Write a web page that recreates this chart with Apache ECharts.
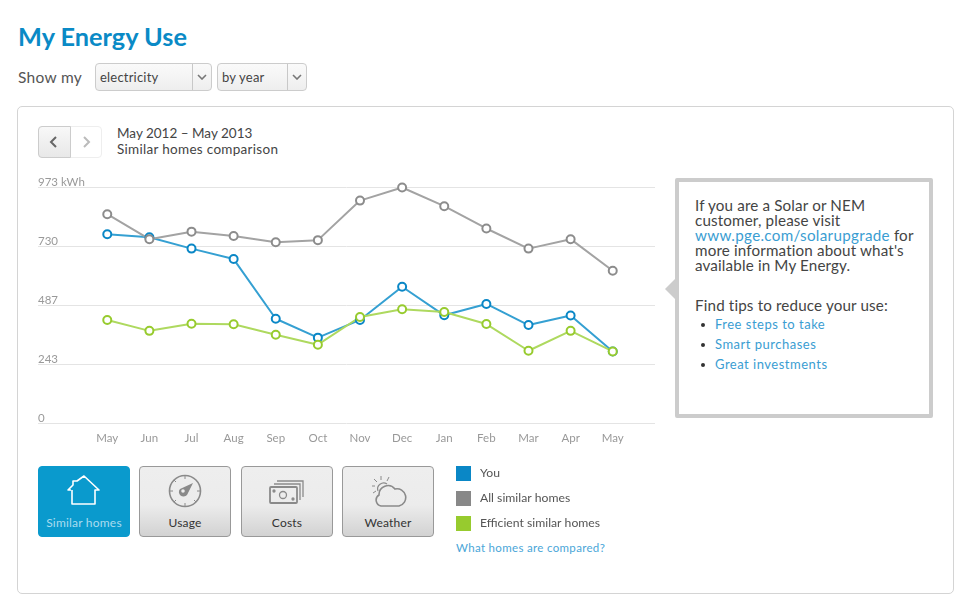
<!DOCTYPE html>
<html>
<head>
<meta charset="utf-8">
<title>My Energy Use</title>
<script src="https://cdn.jsdelivr.net/npm/echarts@6/dist/echarts.min.js"></script>
<style>
html, body { margin: 0; padding: 0; background: #fff; overflow: hidden; }
body { width: 960px; height: 606px; position: relative; font-family: Lato, "Open Sans", sans-serif; color: #444; }
.abs { position: absolute; white-space: nowrap; }
#panel { left: 17px; top: 106px; width: 935px; height: 486px; border: 1px solid #d4d4d4; border-radius: 5px; }
#title { left: 18px; top: 20px; font-size: 25.3px; line-height: 32px; font-weight: 700; color: #0a8ac6; }
#showmy { left: 18px; top: 67px; font-size: 15.5px; line-height: 20px; color: #555; letter-spacing: 0.3px; }
.select { top: 63px; height: 26px; border: 1px solid #ccc; border-radius: 4px; background: linear-gradient(#fafafa, #eee); font-size: 13px; line-height: 27px; color: #444; box-sizing: content-box; }
.select span { position: absolute; left: 4px; letter-spacing: 0.2px; }
.select i { position: absolute; right: 0; top: 0; width: 18px; height: 26px; border-left: 1px solid #c8c8c8; }
.select svg { position: absolute; right: 4px; top: 10px; }
#nav { left: 38px; top: 126px; width: 62px; height: 30px; border: 1px solid #eee; border-radius: 4px; background: #fff; }
#navl { position: absolute; left: -1px; top: -1px; width: 31px; height: 30px; border: 1px solid #ccc; border-radius: 4px 0 0 4px; background: linear-gradient(#f8f8f8, #e8e8e8); }
.sub { left: 117px; font-size: 13.5px; line-height: 16px; color: #444; }
#box { left: 675px; top: 178px; width: 250px; height: 232px; border: 4px solid #ccc; border-radius: 2px; background: #fff; }
#arrow { left: 665px; top: 279px; width: 0; height: 0; border-top: 10px solid transparent; border-bottom: 10px solid transparent; border-right: 10px solid #ccc; }
.info { left: 695px; font-size: 15.2px; line-height: 15px; color: #444; letter-spacing: 0.15px; }
.link { color: #3a9dd2; letter-spacing: 0.3px; }
.tip { left: 715px; font-size: 13px; line-height: 16px; color: #3a9dd2; letter-spacing: 0.5px; }
.dot { left: 701px; width: 4px; height: 4px; border-radius: 50%; background: #333; }
.btn { top: 466px; height: 69px; width: 90px; border: 1px solid #999; border-radius: 4px; background: linear-gradient(#eee 0, #ececec 55%, #d2d2d2 100%); text-align: center; box-sizing: content-box; }
.btn b { position: absolute; left: 0; right: 0; top: 49px; font-weight: 400; font-size: 12px; line-height: 14px; color: #333; letter-spacing: 0.2px; }
.btn svg { position: absolute; left: 26px; top: 7px; }
.btn.on { border-color: #0a9acd; background: #0a9acd; }
.btn.on b { color: #a9dcef; }
#compare { left: 456px; top: 541px; font-size: 11.5px; line-height: 14px; color: #4aa6d8; letter-spacing: 0.33px; }
#chart { left: 0; top: 0; width: 960px; height: 606px; }
</style>
</head>
<body>
<div id="panel" class="abs"></div>
<div id="title" class="abs">My Energy Use</div>
<div id="showmy" class="abs">Show my</div>
<div class="abs select" style="left:95px;width:115px"><span>electricity</span><i></i>
  <svg width="10" height="6"><path d="M1 1 L5 5 L9 1" fill="none" stroke="#777" stroke-width="1.6"/></svg></div>
<div class="abs select" style="left:217px;width:88px"><span>by year</span><i></i>
  <svg width="10" height="6"><path d="M1 1 L5 5 L9 1" fill="none" stroke="#777" stroke-width="1.6"/></svg></div>

<div id="nav" class="abs"><div id="navl">
  <svg width="31" height="30"><path d="M17 10 L12 15 L17 20" fill="none" stroke="#666" stroke-width="2"/></svg></div>
  <svg style="position:absolute;left:31px;top:0" width="31" height="30"><path d="M14 10 L19 15 L14 20" fill="none" stroke="#bbb" stroke-width="2"/></svg>
</div>
<div class="abs sub" style="top:125px">May 2012 – May 2013</div>
<div class="abs sub" style="top:141px;letter-spacing:0.3px">Similar homes comparison</div>

<div id="arrow" class="abs"></div>
<div id="box" class="abs"></div>
<div class="abs info" style="top:198px">If you are a Solar or NEM</div>
<div class="abs info" style="top:213px">customer, please visit</div>
<div class="abs info" style="top:228px"><span class="link">www.pge.com/solarupgrade</span> for</div>
<div class="abs info" style="top:243px">more information about what's</div>
<div class="abs info" style="top:258px">available in My Energy.</div>
<div class="abs info" style="top:298px">Find tips to reduce your use:</div>
<div class="abs dot" style="top:323px"></div><div class="abs tip" style="top:316px">Free steps to take</div>
<div class="abs dot" style="top:343px"></div><div class="abs tip" style="top:336px">Smart purchases</div>
<div class="abs dot" style="top:363px"></div><div class="abs tip" style="top:356px">Great investments</div>

<div class="abs btn on" style="left:38px"><svg width="38" height="36" fill="none" stroke="#fff" stroke-width="1.6" stroke-linejoin="round"><path d="M6 16 L3 16 L8 11 L8 7 L12 7 L19 2 L34 16 L30 16 L30 30 L7 30 L7 16"/></svg><b>Similar homes</b></div>
<div class="abs btn" style="left:139px"><svg width="38" height="36" fill="none" stroke="#8a8a8a"><circle cx="19" cy="17" r="15.5" stroke-width="1.6"/><path d="M27 9 L21 21 A4 4 0 0 1 14 15 Z" fill="#8a8a8a" stroke="none"/><circle cx="17" cy="17" r="1.8" fill="#eee" stroke="none"/><path d="M19 2 V5 M19 29 V32 M4 17 H7 M31 17 H34 M8 6 L10 8 M8 28 L10 26 M30 28 L28 26" stroke-width="1"/></svg><b>Usage</b></div>
<div class="abs btn" style="left:241px"><svg width="38" height="36" fill="none" stroke="#8a8a8a" stroke-width="1.3"><path d="M9 7 H35 V23 M6 10 H32 V26"/><rect x="2" y="13" width="27" height="16" rx="1" stroke-width="1.8"/><circle cx="15" cy="21" r="3.5"/><circle cx="6" cy="17" r="1" fill="#8a8a8a"/><circle cx="25" cy="25" r="1" fill="#8a8a8a"/></svg><b>Costs</b></div>
<div class="abs btn" style="left:342px"><svg width="38" height="36" fill="none" stroke="#8a8a8a" stroke-width="1.6"><path d="M12 32 A6 6 0 0 1 10 21 A9 9 0 0 1 26 15 A8 8 0 0 1 30 32 Z"/><path d="M9 17 A6 6 0 0 1 18 10" stroke-width="1.2"/><path d="M12 2 V6 M3 12 H6 M5 5 L8 8 M20 3 L18 7 M4 19 L7 17" stroke-width="1"/></svg><b>Weather</b></div>
<div id="compare" class="abs">What homes are compared?</div>

<div id="chart" class="abs"></div>

<script>
var months = ['May', 'Jun', 'Jul', 'Aug', 'Sep', 'Oct', 'Nov', 'Dec', 'Jan', 'Feb', 'Mar', 'Apr', 'May'];
var yTicks = [0, 243, 487, 730, 973];
var youValues = [780, 768, 721, 678, 432, 354, 427, 564, 446, 493, 406, 445, 297];
var allValues = [863, 760, 791, 773, 747, 756, 919, 973, 896, 804, 721, 760, 630];
var efficientValues = [427, 382, 411, 409, 366, 325, 439, 471, 460, 410, 300, 382, 297];

function makeSeries(name, values, color, lineColor) {
    return {
        name: name,
        type: 'line',
        xAxisIndex: 1,
        yAxisIndex: 1,
        data: values,
        symbol: 'circle',
        symbolSize: 8,
        showSymbol: true,
        lineStyle: { color: lineColor, width: 2 },
        itemStyle: { color: '#fff', borderColor: color, borderWidth: 2 }
    };
}

var chart = echarts.init(document.getElementById('chart'), null, { renderer: 'canvas' });
var labelFont = 'Lato, "Open Sans", sans-serif';

// grid 0 carries the long gridlines, grid 1 the plotted months
chart.setOption({
    animation: false,
    backgroundColor: 'transparent',
    grid: [
        { left: 38, top: 187.5, width: 617, height: 236 },
        { left: 86.2, top: 187.5, width: 547.6, height: 236 }
    ],
    xAxis: [
        { gridIndex: 0, type: 'value', show: false, min: 0, max: 1 },
        {
            gridIndex: 1,
            type: 'category',
            data: months,
            axisLine: { show: false },
            axisTick: { show: false },
            axisLabel: { color: '#999', fontSize: 11.5, margin: 9, fontFamily: labelFont, interval: 0 }
        }
    ],
    yAxis: [
        {
            gridIndex: 0,
            type: 'value',
            min: 0,
            max: 973,
            axisLine: { show: false },
            axisTick: { show: false, customValues: yTicks },
            splitLine: { show: true, lineStyle: { color: '#e4e4e4', width: 1 } },
            axisLabel: {
                customValues: yTicks,
                inside: true,
                margin: 0,
                color: '#999',
                fontSize: 11.5,
                lineHeight: 11,
                fontFamily: labelFont,
                verticalAlign: 'bottom',
                formatter: function (v) { return v === 973 ? '973 kWh' : String(v); }
            }
        },
        { gridIndex: 1, type: 'value', show: false, min: 0, max: 973, splitLine: { show: false } }
    ],
    legend: {
        left: 456,
        top: 466,
        padding: 0,
        orient: 'vertical',
        icon: 'rect',
        itemWidth: 15,
        itemHeight: 15,
        itemGap: 10,
        selectedMode: false,
        textStyle: { color: '#555', fontSize: 12.2, fontFamily: labelFont, padding: [2, 0, 0, 4] },
        data: [
            { name: 'You', itemStyle: { color: '#0a87c6', borderWidth: 0 } },
            { name: 'All similar homes', itemStyle: { color: '#888', borderWidth: 0 } },
            { name: 'Efficient similar homes', itemStyle: { color: '#97cb2e', borderWidth: 0 } }
        ]
    },
    series: [
        makeSeries('You', youValues, '#0a87c6', '#35a0d2'),
        makeSeries('All similar homes', allValues, '#8c8c8c', '#a3a3a3'),
        makeSeries('Efficient similar homes', efficientValues, '#97cb2e', '#aed95f')
    ]
});
</script>
</body>
</html>
